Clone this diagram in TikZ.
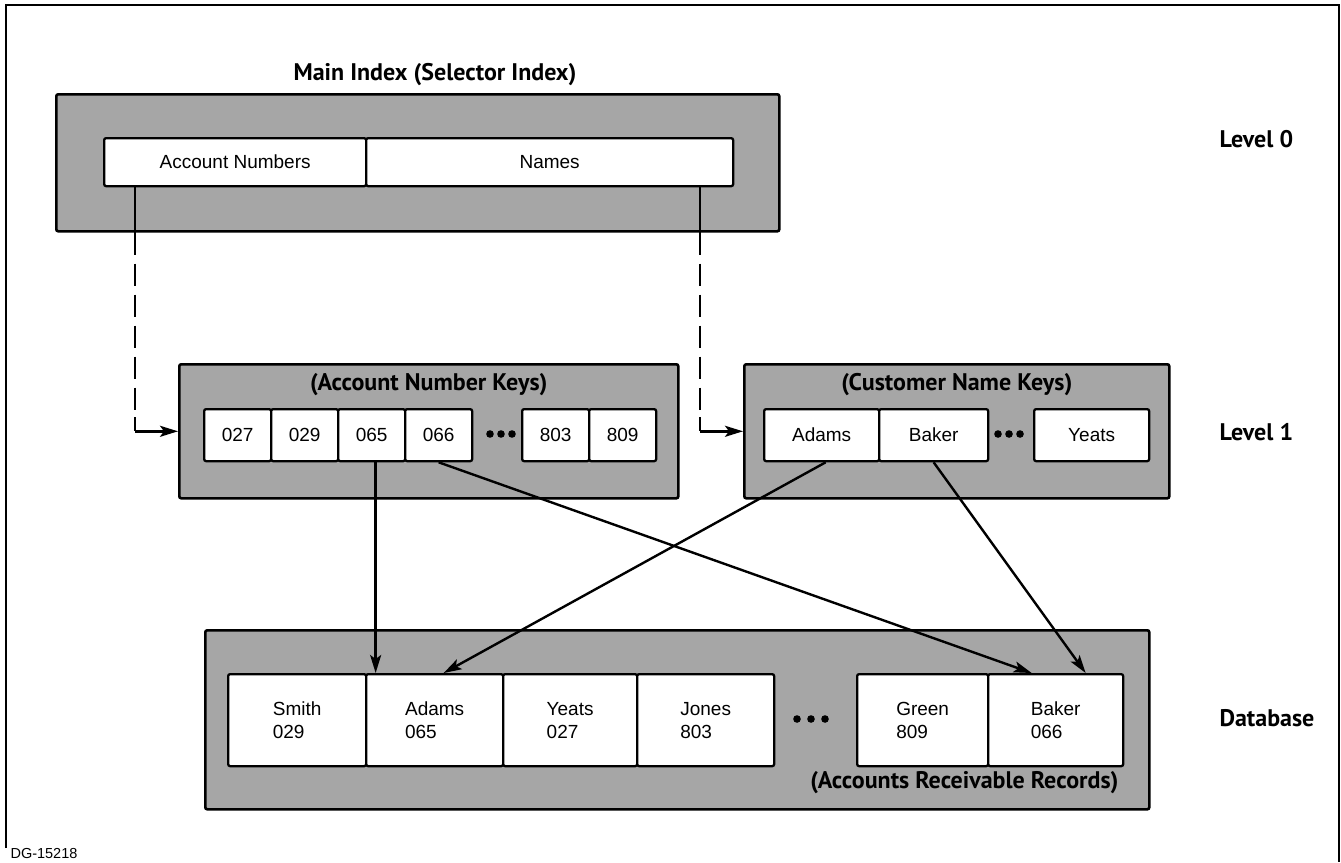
\documentclass[tikz,border=0pt]{standalone}
\usepackage{fontspec}
\setmainfont{Liberation Sans}
\newfontfamily\headfont{PT Sans}
\usetikzlibrary{arrows.meta,calc}

\begin{document}
\begin{tikzpicture}[x=1pt,y=-1pt,
  panel/.style={draw,line width=2.6pt,fill=black!35,rounded corners=2pt,
    anchor=north west,inner sep=0pt},
  cell/.style={draw,line width=2.3pt,fill=white,rounded corners=2pt,
    anchor=north west,inner sep=0pt,font=\fontsize{19}{23}\selectfont},
  keycell/.style={cell,minimum height=52pt},
  reccell/.style={cell,minimum height=92pt,align=left},
  head/.style={font=\headfont\bfseries\fontsize{24}{28}\selectfont},
  link/.style={line width=2.4pt,-{Stealth[length=18pt,width=11pt,inset=4pt]}},
  guide/.style={line width=2.4pt},
  guidedash/.style={line width=2.4pt,dash pattern=on 22pt off 9pt},
  dot/.style={fill=black},
]
\useasboundingbox (0,0) rectangle (1341,862);

% outer frame (open at the bottom)
\draw[line width=2pt] (6,848) -- (6,5) -- (1339,5) -- (1339,862);

% ---------- level 0: main index ----------
\node[head] (t0) at (435,75) {Main Index (Selector Index)};
\node[panel,minimum width=723pt,minimum height=137pt] (mainbox) at (55,93) {};
\node[cell,minimum width=262pt,minimum height=48pt] (acctcol) at (103,137) {Account Numbers};
\node[cell,minimum width=367pt,minimum height=48pt] (namescol) at (365,137) {Names};

% ---------- level 1: key indexes ----------
\node[panel,minimum width=499pt,minimum height=134pt] (acckeys) at (178,363) {};
\node[head] (t1) at ($(acckeys.north)+(0,22)$) {(Account Number Keys)};
\node[keycell,minimum width=67pt] (k027) at (203,408) {027};
\node[keycell,minimum width=67pt] (k029) at (270,408) {029};
\node[keycell,minimum width=67pt] (k065) at (337,408) {065};
\node[keycell,minimum width=67pt] (k066) at (404,408) {066};
\node[keycell,minimum width=67pt] (k803) at (521,408) {803};
\node[keycell,minimum width=67pt] (k809) at (588,408) {809};
\foreach \x in {490,501,512} \fill[dot] (\x,434) circle (3.8pt);

\node[panel,minimum width=425pt,minimum height=134pt] (namekeys) at (743,363) {};
\node[head] (t2) at ($(namekeys.north)+(0,22)$) {(Customer Name Keys)};
\node[keycell,minimum width=115pt] (kAdams) at (763,408) {Adams};
\node[keycell,minimum width=109pt] (kBaker) at (878,408) {Baker};
\node[keycell,minimum width=115pt] (kYeats) at (1033,408) {Yeats};
\foreach \x in {998,1009,1020} \fill[dot] (\x,434) circle (3.8pt);

% ---------- database ----------
\node[panel,minimum width=944pt,minimum height=179pt] (db) at (204,629) {};
\node[reccell,minimum width=138pt] (rSmith) at (227,673) {Smith\\029};
\node[reccell,minimum width=137pt] (rAdams) at (365,673) {Adams\\065};
\node[reccell,minimum width=134pt] (rYeats) at (502,673) {Yeats\\027};
\node[reccell,minimum width=137pt] (rJones) at (636,673) {Jones\\803};
\node[reccell,minimum width=131pt] (rGreen) at (856,673) {Green\\809};
\node[reccell,minimum width=135pt] (rBaker) at (987,673) {Baker\\066};
\foreach \x in {797,811,825} \fill[dot] (\x,719) circle (3.8pt);
\node[head,anchor=east] (t3) at (1122,783) {(Accounts Receivable Records)};

% ---------- level labels ----------
\node[head,anchor=west] (lv0) at (1216,139) {Level 0};
\node[head,anchor=west] (lv1) at (1216,432) {Level 1};
\node[head,anchor=west] (lvdb) at (1216,718) {Database};
\node[anchor=west,font=\fontsize{14.5}{16}\selectfont] (tag) at (7,853) {DG-15218};

% ---------- dashed links from the main index ----------
\coordinate (lx) at (135,0);
\coordinate (rx) at (700,0);
\draw[guide] (acctcol.south -| lx) -- (mainbox.south -| lx);
\draw[guidedash] (mainbox.south -| lx) -- ([yshift=14pt]acckeys.west -| lx);
\draw[guide] ([yshift=14pt]acckeys.west -| lx) -- (acckeys.west -| lx);
\draw[link] (acckeys.west -| lx) -- (acckeys.west);

\draw[guide] (namescol.south -| rx) -- (mainbox.south -| rx);
\draw[guidedash] (mainbox.south -| rx) -- ([yshift=14pt]namekeys.west -| rx);
\draw[guide] ([yshift=14pt]namekeys.west -| rx) -- (namekeys.west -| rx);
\draw[link] (namekeys.west -| rx) -- (namekeys.west);

% ---------- links from keys to records ----------
\draw[link] ([xshift=4pt]k065.south) -- ([xshift=4pt]k065.south |- rAdams.north);
\draw[link] (k066.south) -- ([xshift=-24pt]rBaker.north);
\draw[link] ([xshift=4pt]kAdams.south) -- ([xshift=9pt]rAdams.north);
\draw[link] (kBaker.south) -- ([xshift=30pt]rBaker.north);
\end{tikzpicture}
\end{document}
